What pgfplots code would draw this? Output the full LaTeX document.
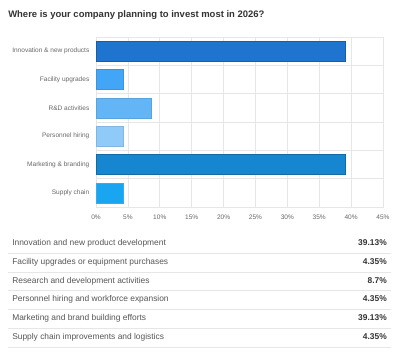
\documentclass[border=0pt]{standalone}
\usepackage{fontspec}
\setmainfont{Liberation Sans}
\usepackage{pgfplots}
\pgfplotsset{compat=1.18}
\definecolor{gridc}{HTML}{E6E6E6}
\definecolor{tickc}{HTML}{666666}
\definecolor{labc}{HTML}{555555}
\definecolor{valc}{HTML}{333333}
\definecolor{cA}{HTML}{1F74D0}
\definecolor{cB}{HTML}{42A5F5}
\definecolor{cC}{HTML}{64B5F6}
\definecolor{cD}{HTML}{90CAF9}
\definecolor{cE}{HTML}{1686D0}
\definecolor{cF}{HTML}{1AA5F0}
\begin{document}
\begin{tikzpicture}
\begin{scope}[x=0.75pt,y=-0.75pt]
\path[use as bounding box] (0,0) rectangle (400,358);
\node[anchor=west,font=\fontsize{7.1pt}{9pt}\selectfont\bfseries,text=valc,inner sep=0pt] at (8,15) {Where is your company planning to invest most in 2026?};
% table
\foreach \yy in {253,272,290,309,328,347} {\draw[gridc,line width=0.6pt] (8,\yy) -- (391,\yy);}
\foreach \yy/\lab/\val in {243/Innovation and new product development/39.13\%,262/Facility upgrades or equipment purchases/4.35\%,281/Research and development activities/8.7\%,299/Personnel hiring and workforce expansion/4.35\%,318/Marketing and brand building efforts/39.13\%,337/Supply chain improvements and logistics/4.35\%} {
\node[anchor=west,inner sep=0pt,text=labc,font=\fontsize{6.3pt}{8pt}\selectfont] at (12,\yy) {\lab};
\node[anchor=east,inner sep=0pt,text=valc,font=\fontsize{6.3pt}{8pt}\selectfont\bfseries] at (387,\yy) {\val};
}
\end{scope}
\begin{axis}[
  at={(72pt,-27.75pt)}, anchor=north west,
  scale only axis, width=215.25pt, height=127.5pt,
  xmin=0, xmax=45, ymin=-0.5, ymax=5.5, y dir=reverse,
  xtick={0,5,...,45},
  xticklabel={\pgfmathprintnumber{\tick}\%},
  ytick={0,1,2,3,4,5},
  yticklabels={Innovation \& new products,Facility upgrades,R\&D activities,Personnel hiring,Marketing \& branding,Supply chain},
  minor ytick={-0.5,0.5,...,5.5},
  xmajorgrids, yminorgrids,
  grid style={gridc,line width=0.5pt},
  minor grid style={gridc,line width=0.5pt},
  axis line style={gridc,line width=0.5pt},
  major tick length=0pt, minor tick length=0pt,
  tick label style={text=tickc,font=\fontsize{4.9pt}{6pt}\selectfont},
  /pgf/number format/assume math mode=true,
  xticklabel style={yshift=-2.5pt},
  yticklabel style={xshift=-1.5pt},
  xbar, bar width=15pt, bar shift=0pt,
]
\addplot[fill=cA,draw=cA!80!black,line width=0.5pt] coordinates {(39.13,0)};
\addplot[fill=cB,draw=cB!90!black,line width=0.5pt] coordinates {(4.35,1)};
\addplot[fill=cC,draw=cC!90!black,line width=0.5pt] coordinates {(8.7,2)};
\addplot[fill=cD,draw=cD!90!black,line width=0.5pt] coordinates {(4.35,3)};
\addplot[fill=cE,draw=cE!80!black,line width=0.5pt] coordinates {(39.13,4)};
\addplot[fill=cF,draw=cF!90!white,line width=0.5pt] coordinates {(4.35,5)};
\end{axis}
\end{tikzpicture}
\end{document}
